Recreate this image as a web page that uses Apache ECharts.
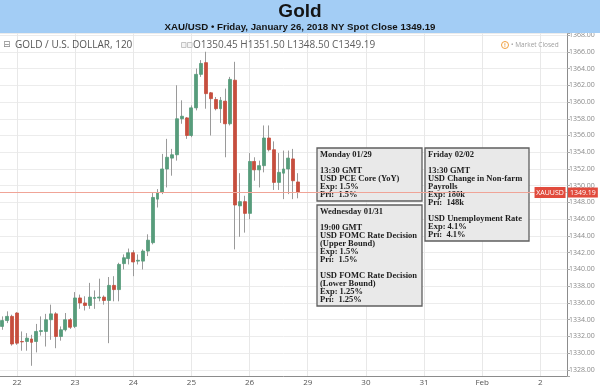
<!DOCTYPE html>
<html>
<head>
<meta charset="utf-8">
<script src="https://cdn.jsdelivr.net/npm/echarts@6/dist/echarts.min.js"></script>
<style>html,body{margin:0;padding:0;background:#fff}#c{width:600px;height:388px}</style>
</head>
<body>
<div id="c"></div>
<script>
// ---- data (XAU/USD 120-minute candles) ----
const dayNames = ['19','22','23','24','25','26','29','30','31','Feb','2'];
const barsPerDay = 12;
const slotCount = 117;
const opens  = [1333.2,1333.9,1334.4,1334.8,1331.4,1331.4,1331.7,1331.4,1332.6,1332.6,1334.0,1334.7,1332.0,1332.8,1334.0,1333.2,
                1336.6,1336.0,1335.7,1336.55,1336.6,1336.7,1336.3,1338.1,1337.6,1340.7,1341.3,1342.0,1341.0,1341.0,1342.2,1343.2,
                1348.4,1349.2,1352.0,1353.3,1353.7,1358.0,1358.1,1356.0,1359.3,1363.3,1364.7,1361.1,1360.3,1359.2,1360.1,1357.4,
                1362.6,1347.6,1348.1,1346.7,1352.9,1351.9,1352.4,1355.7,1354.3,1350.4,1351.5,1352.0,1353.2,1350.45];
const closes = [1333.9,1334.4,1331.1,1331.2,1331.35,1331.8,1331.3,1332.6,1332.7,1334.0,1334.7,1332.0,1332.8,1334.0,1333.1,1336.6,
                1336.0,1335.7,1336.7,1336.65,1336.7,1336.3,1338.1,1337.6,1340.6,1341.4,1342.0,1340.9,1341.1,1342.2,1343.5,1348.6,
                1349.2,1352.0,1353.4,1353.7,1358.0,1358.3,1356.0,1359.3,1363.3,1364.6,1361.0,1360.4,1359.2,1360.2,1357.4,1362.7,
                1347.7,1348.1,1346.7,1352.9,1351.9,1352.4,1355.7,1354.3,1350.4,1351.6,1352.0,1353.3,1350.6,1349.19];
const lows   = [1332.8,1333.6,1330.9,1331.0,1330.3,1330.3,1328.5,1330.1,1332.1,1330.8,1331.6,1330.6,1331.5,1332.6,1332.9,1333.0,
                1335.3,1335.1,1335.3,1335.3,1336.2,1335.8,1331.2,1336.2,1336.2,1340.0,1340.6,1339.2,1340.6,1340.0,1341.6,1343.0,
                1347.4,1349.0,1349.8,1351.2,1353.0,1357.4,1355.6,1355.8,1359.0,1363.0,1359.2,1356.0,1359.0,1357.5,1353.4,1357.2,
                1342.4,1343.9,1344.4,1346.0,1350.6,1349.8,1351.6,1354.1,1349.5,1349.5,1348.4,1349.0,1348.4,1348.5];
const highs  = [1334.4,1335.0,1334.6,1334.9,1332.6,1332.4,1332.2,1333.5,1334.4,1334.7,1335.8,1334.9,1333.2,1334.8,1334.2,1337.3,
                1337.0,1336.8,1338.4,1337.5,1338.9,1336.9,1339.1,1339.2,1340.8,1341.8,1342.5,1342.3,1341.8,1342.4,1344.2,1349.2,
                1349.6,1353.8,1355.6,1354.4,1362.0,1360.2,1358.2,1359.6,1364.0,1365.0,1366.0,1361.2,1360.6,1360.6,1361.6,1363.0,
                1364.8,1351.5,1348.8,1353.9,1353.4,1353.0,1357.2,1357.2,1355.3,1353.9,1354.2,1354.2,1354.4,1351.5];
const lastClose = 1349.19;
const symbolName = 'XAUUSD';
const titleText = 'Gold';
const subtitleText = 'XAU/USD \u2022 Friday, January 26, 2018 NY Spot Close 1349.19';
const headerText = 'GOLD / U.S. DOLLAR, 120';
const ohlcText = 'O1350.45 H1351.50 L1348.50 C1349.19';
const statusText = '\u2022 Market Closed';
const box1Lines = ['Monday 01/29','','13:30 GMT','USD PCE Core (YoY)','Exp: 1.5%','Pri:  1.5%'];
const box2Lines = ['Wednesday 01/31','','19:00 GMT','USD FOMC Rate Decision','(Upper Bound)','Exp: 1.5%','Pri:  1.5%','','USD FOMC Rate Decision','(Lower Bound)','Exp: 1.25%','Pri:  1.25%'];
const box3Lines = ['Friday 02/02','','13:30 GMT','USD Change in Non-farm','Payrolls','Exp: 180k','Pri:  148k','','USD Unemployment Rate','Exp: 4.1%','Pri:  4.1%'];

// ---- categories: one slot per 120-minute bar ----
const categories = [];
dayNames.forEach((d, di) => {
  for (let k = (di === 0 ? barsPerDay - 3 : 0); k < barsPerDay; k++) categories.push(d + '|' + k);
});
categories.length = slotCount;
const dayStarts = categories.filter(c => c.endsWith('|0'));

const wickData = opens.map((o, i) => [o, closes[i], lows[i], highs[i]]);
const bodyData = opens.map((o, i) => [o, closes[i], Math.min(o, closes[i]), Math.max(o, closes[i])]);

const UP = '#579c7b', DOWN = '#c64e3e', TAG = '#e14b3d';

function box(x, y, w, lines) {
  const h = lines.length * 8 + 5;
  return {
    type: 'group', x: x, y: y, z: 2,
    children: [
      { type: 'rect', shape: { x: 0, y: 0, width: w, height: h },
        style: { fill: '#e9e9e9', stroke: '#5f5f5f', lineWidth: 1.3 }, z: 2 },
      { type: 'text', x: 3, y: 3, z: 2,
        style: { text: lines.join('\n'), font: 'bold 8.5px "Liberation Serif", serif',
                 fill: '#1c1c1c', lineHeight: 8, verticalAlign: 'top', align: 'left' } }
    ]
  };
}

const chart = echarts.init(document.getElementById('c'), null, { renderer: 'canvas' });
chart.setOption({
  animation: false,
  backgroundColor: '#ffffff',
  grid: { left: 0, right: 33, top: 33, bottom: 12, containLabel: false, outerBoundsMode: 'none' },
  xAxis: {
    type: 'category', data: categories, boundaryGap: true,
    axisLine: { show: true, lineStyle: { color: '#8c8c8c', width: 1 } },
    axisTick: { show: false },
    splitLine: { show: false },
    axisLabel: {
      interval: (i, v) => v.endsWith('|0'),
      formatter: v => v.split('|')[0],
      fontSize: 8, color: '#555', margin: 3, fontFamily: 'Open Sans'
    }
  },
  yAxis: {
    type: 'value', position: 'right', scale: true,
    min: 1327.28, max: 1368.24, minInterval: 2, maxInterval: 2, splitNumber: 20,
    axisLine: { show: true, lineStyle: { color: '#8c8c8c', width: 1 } },
    axisTick: { show: true, length: 3, lineStyle: { color: '#aaa' } },
    splitLine: { show: true, lineStyle: { color: '#ececec', width: 1 } },
    axisLabel: {
      fontSize: 7, color: '#8a8a8a', margin: 2, fontFamily: 'Open Sans',
      formatter: v => (Math.abs(v / 2 - Math.round(v / 2)) < 1e-6 ? v.toFixed(2) : '')
    }
  },
  series: [
    {
      name: 'wick', type: 'candlestick', data: wickData, barWidth: 1, z: 3,
      itemStyle: { color: '#9a9a9a', color0: '#9a9a9a', borderColor: '#9a9a9a', borderColor0: '#9a9a9a', borderWidth: 1 },
      silent: true,
      markLine: {
        silent: true, symbol: 'none', z: 1, animation: false,
        label: { show: false },
        lineStyle: { color: '#e8e8e8', width: 1, type: 'solid' },
        data: dayStarts.map(c => ({ xAxis: c }))
      }
    },
    {
      name: 'body', type: 'candlestick', data: bodyData, barWidth: 3.4, z: 3,
      itemStyle: { color: UP, color0: DOWN, borderColor: UP, borderColor0: DOWN, borderWidth: 0.8 },
      silent: true,
      markLine: {
        silent: true, symbol: 'none', z: 5, animation: false,
        lineStyle: { color: '#f0a497', width: 1, type: 'solid' },
        label: { show: true, position: 'end', distance: 1, formatter: () => lastClose.toFixed(2),
                 backgroundColor: TAG, color: '#fff', fontSize: 7, padding: [2, 2, 1, 2], fontFamily: 'Open Sans' },
        data: [{ yAxis: lastClose }]
      },
      markPoint: {
        silent: true, z: 5, animation: false,
        symbol: 'rect', symbolSize: [31, 11],
        itemStyle: { color: TAG },
        label: { show: true, position: 'inside', formatter: symbolName, color: '#fff', fontSize: 7, fontFamily: 'Open Sans' },
        data: [{ coord: [slotCount - 4, lastClose] }]
      }
    }
  ],
  graphic: [
    { type: 'rect', z: 10, shape: { x: 0, y: 0, width: 600, height: 33 }, style: { fill: '#a3cdf5' } },
    { type: 'text', z: 11, x: 300, y: 12, style: { text: titleText, font: 'bold 19px "Liberation Sans", Arial, sans-serif', fill: '#141414', align: 'center', verticalAlign: 'middle' } },
    { type: 'text', z: 11, x: 300, y: 27, style: { text: subtitleText, font: 'bold 9.7px "Liberation Sans", Arial, sans-serif', fill: '#141414', align: 'center', verticalAlign: 'middle' } },
    { type: 'text', z: 11, x: 3, y: 45, style: { text: '\u229F', font: '9px "DejaVu Sans"', fill: '#888', verticalAlign: 'middle' } },
    { type: 'text', z: 11, x: 15, y: 45, style: { text: headerText, font: '10px "Open Sans", sans-serif', fill: '#555', verticalAlign: 'middle' } },
    { type: 'rect', z: 11, shape: { x: 181.5, y: 42.5, width: 4.5, height: 5 }, style: { fill: '#f4f4f4', stroke: '#c4c4c4', lineWidth: 1 } },
    { type: 'rect', z: 11, shape: { x: 187.5, y: 42.5, width: 4.5, height: 5 }, style: { fill: '#f4f4f4', stroke: '#c4c4c4', lineWidth: 1 } },
    { type: 'text', z: 11, x: 193, y: 45, style: { text: ohlcText, font: '10px "Open Sans", sans-serif', fill: '#5e5e5e', verticalAlign: 'middle' } },
    { type: 'circle', z: 11, shape: { cx: 505, cy: 45, r: 3.5 }, style: { fill: '#fff', stroke: '#f0a040', lineWidth: 1 } },
    { type: 'text', z: 11, x: 505, y: 45.5, style: { text: '!', font: 'bold 5px "DejaVu Sans"', fill: '#f0a040', align: 'center', verticalAlign: 'middle' } },
    { type: 'text', z: 11, x: 511, y: 45, style: { text: statusText, font: '6.5px "Open Sans", sans-serif', fill: '#a0a0a0', verticalAlign: 'middle' } },
    box(317, 148, 105, box1Lines),
    box(317, 205, 105, box2Lines),
    box(425, 148, 104, box3Lines)
  ]
});
</script>
</body>
</html>
